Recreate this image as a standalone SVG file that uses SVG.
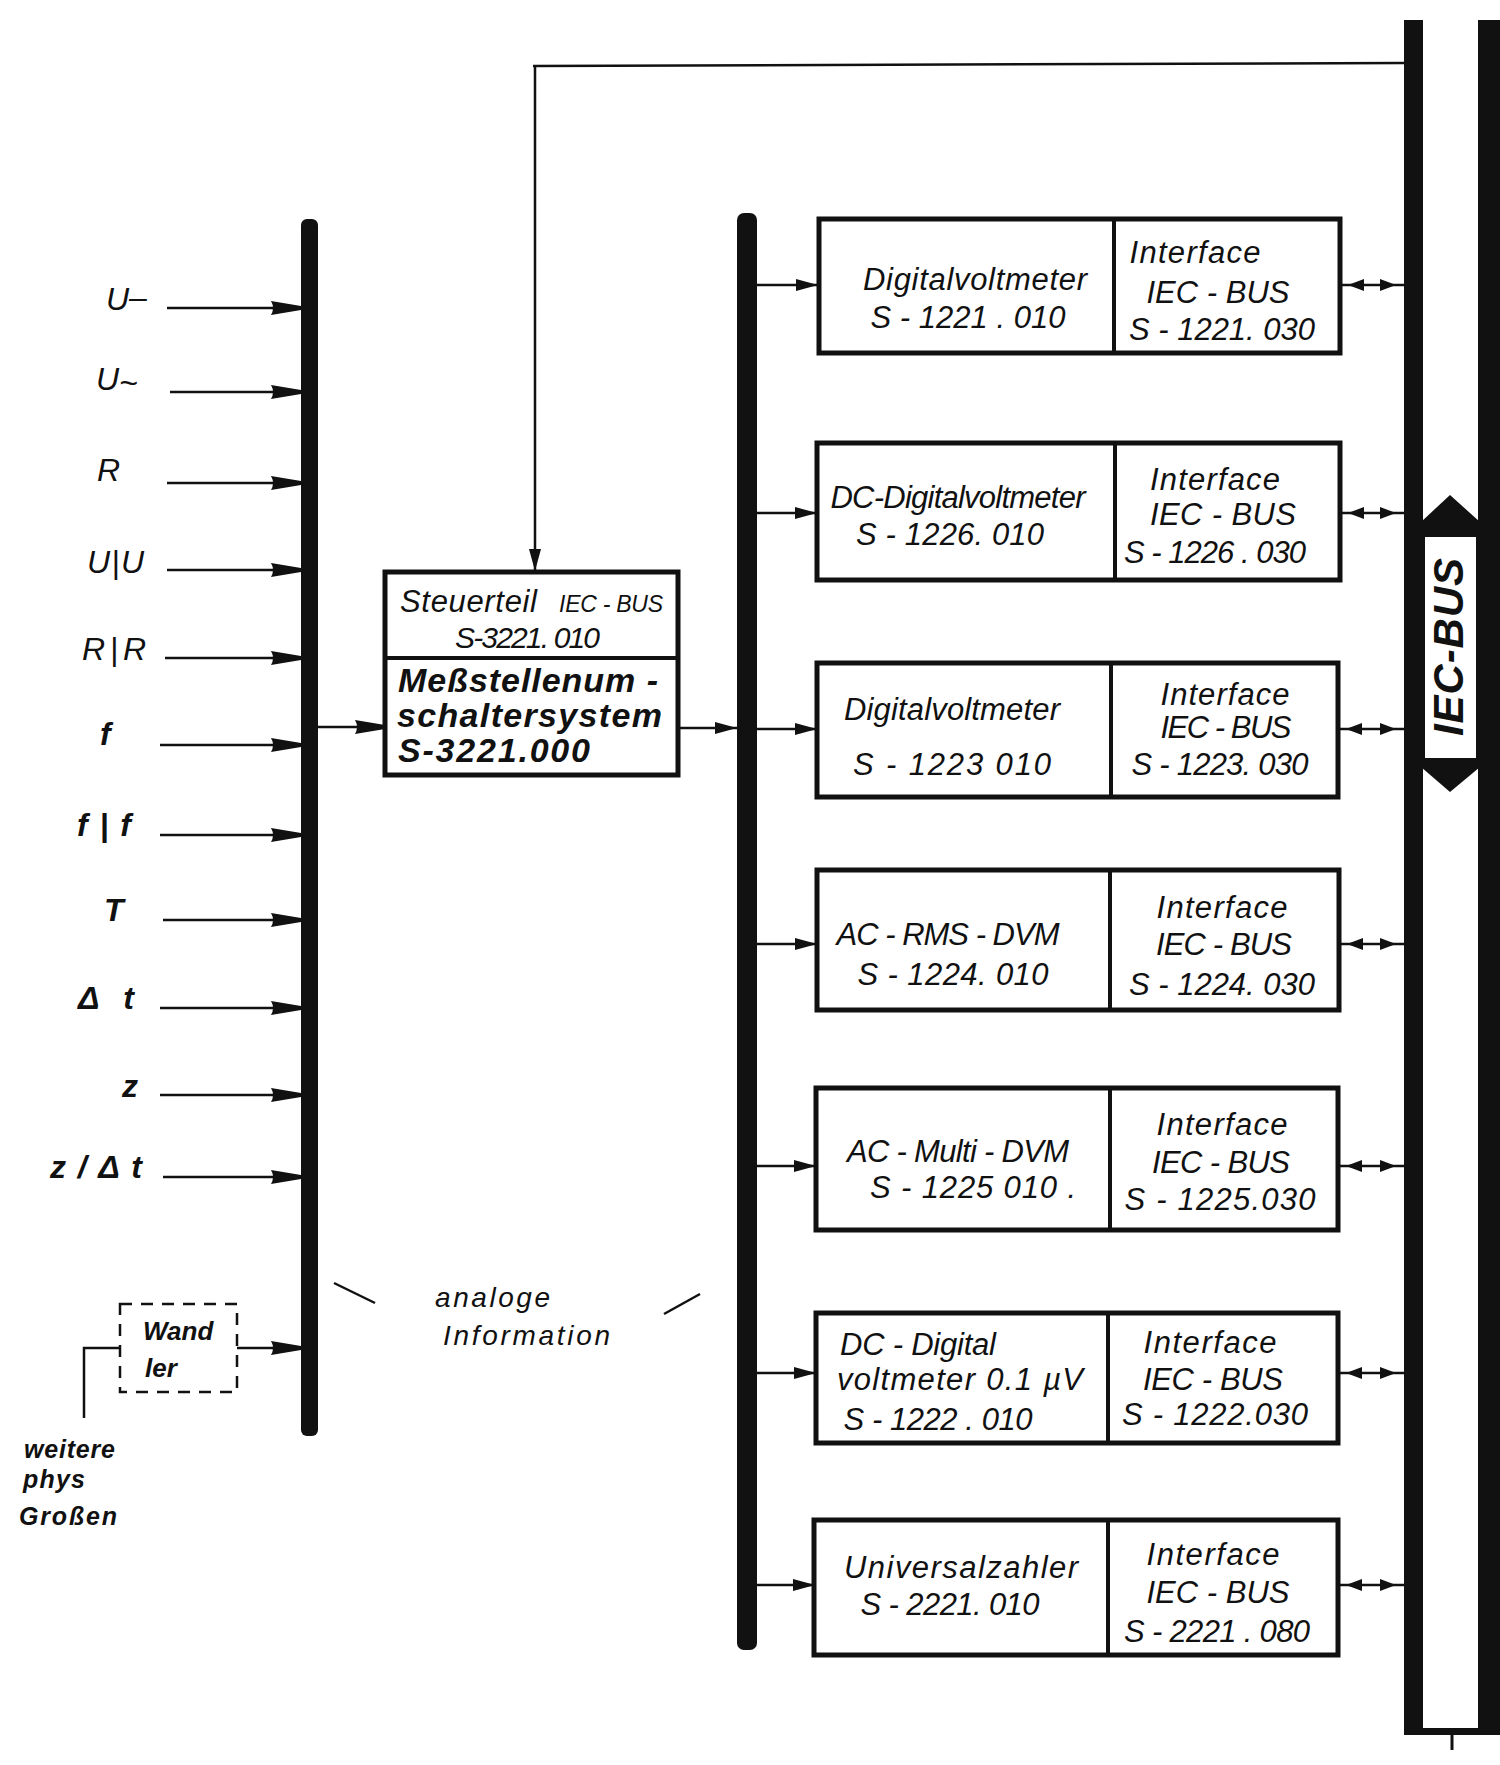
<svg xmlns="http://www.w3.org/2000/svg" width="1500" height="1765" viewBox="0 0 1500 1765">
<style>
text{font-family:"Liberation Sans",Arial,sans-serif;font-style:italic;fill:#111}
.bx{font-size:31px;text-anchor:middle}
.lb{font-size:32px}
.b{font-weight:bold}
.box{fill:#fff;stroke:#111;stroke-width:5}
.ln{stroke:#111;stroke-width:2.5;fill:none}
.bar{fill:#111}
</style>
<defs>
<marker id="ah" markerUnits="userSpaceOnUse" viewBox="0 0 30 14" markerWidth="30" markerHeight="14" refX="30" refY="7" orient="auto"><path d="M0,0 L30,5 L30,9 L0,14 Q4,7 0,0 z" fill="#111"/></marker>
<marker id="as" markerUnits="userSpaceOnUse" viewBox="0 0 22 12" markerWidth="22" markerHeight="12" refX="22" refY="6" orient="auto"><path d="M0,0 L22,6 L0,12 z" fill="#111"/></marker>
<marker id="ad" markerUnits="userSpaceOnUse" viewBox="0 0 16 12" markerWidth="16" markerHeight="12" refX="24" refY="6" orient="auto-start-reverse"><path d="M0,0 L16,6 L0,12 z" fill="#111"/></marker>
</defs>
<rect width="1500" height="1765" fill="#fff"/>

<g id="connectors">
  <line class="ln" x1="167" y1="308" x2="301" y2="308" marker-end="url(#ah)"/>
  <line class="ln" x1="170" y1="392" x2="301" y2="392" marker-end="url(#ah)"/>
  <line class="ln" x1="167" y1="483" x2="301" y2="483" marker-end="url(#ah)"/>
  <line class="ln" x1="167" y1="570" x2="301" y2="570" marker-end="url(#ah)"/>
  <line class="ln" x1="165" y1="658" x2="301" y2="658" marker-end="url(#ah)"/>
  <line class="ln" x1="160" y1="745" x2="301" y2="745" marker-end="url(#ah)"/>
  <line class="ln" x1="160" y1="835" x2="301" y2="835" marker-end="url(#ah)"/>
  <line class="ln" x1="163" y1="920" x2="301" y2="920" marker-end="url(#ah)"/>
  <line class="ln" x1="160" y1="1008" x2="301" y2="1008" marker-end="url(#ah)"/>
  <line class="ln" x1="160" y1="1095" x2="301" y2="1095" marker-end="url(#ah)"/>
  <line class="ln" x1="163" y1="1177" x2="301" y2="1177" marker-end="url(#ah)"/>
  <line class="ln" x1="237" y1="1348" x2="301" y2="1348" marker-end="url(#ah)"/>
  <polyline class="ln" points="120,1348 84,1348 84,1418"/>
  <line class="ln" x1="318" y1="727" x2="385" y2="727" stroke-width="3" marker-end="url(#ah)"/>
  <line class="ln" x1="678" y1="728" x2="737" y2="728" stroke-width="3" marker-end="url(#as)"/>
  <polyline class="ln" points="535,66 535,571" stroke-width="2.5" marker-end="url(#as)"/>
  <line class="ln" x1="533" y1="66" x2="1404" y2="63" stroke-width="4.5"/>
  <line class="ln" x1="757" y1="285" x2="818" y2="285" marker-end="url(#as)"/>
  <line class="ln" x1="757" y1="513" x2="817" y2="513" marker-end="url(#as)"/>
  <line class="ln" x1="757" y1="729" x2="817" y2="729" marker-end="url(#as)"/>
  <line class="ln" x1="757" y1="944" x2="817" y2="944" marker-end="url(#as)"/>
  <line class="ln" x1="757" y1="1166" x2="816" y2="1166" marker-end="url(#as)"/>
  <line class="ln" x1="757" y1="1373" x2="816" y2="1373" marker-end="url(#as)"/>
  <line class="ln" x1="757" y1="1585" x2="815" y2="1585" marker-end="url(#as)"/>
  <line class="ln" x1="1340" y1="285" x2="1404" y2="285" marker-start="url(#ad)" marker-end="url(#ad)"/>
  <line class="ln" x1="1340" y1="513" x2="1404" y2="513" marker-start="url(#ad)" marker-end="url(#ad)"/>
  <line class="ln" x1="1338" y1="729" x2="1404" y2="729" marker-start="url(#ad)" marker-end="url(#ad)"/>
  <line class="ln" x1="1339" y1="944" x2="1404" y2="944" marker-start="url(#ad)" marker-end="url(#ad)"/>
  <line class="ln" x1="1338" y1="1166" x2="1404" y2="1166" marker-start="url(#ad)" marker-end="url(#ad)"/>
  <line class="ln" x1="1338" y1="1373" x2="1404" y2="1373" marker-start="url(#ad)" marker-end="url(#ad)"/>
  <line class="ln" x1="1338" y1="1585" x2="1404" y2="1585" marker-start="url(#ad)" marker-end="url(#ad)"/>
  <line class="ln" x1="334" y1="1283" x2="375" y2="1303"/>
  <line class="ln" x1="664" y1="1314" x2="700" y2="1294"/>
</g>

<g id="inputs">
  <text class="lb" x="106" y="310">U<tspan dy="-2">–</tspan></text>
  <text class="lb" x="96" y="390">U<tspan dy="4">~</tspan></text>
  <text class="lb" x="97" y="481">R</text>
  <text class="lb" x="87" y="573" textLength="57">U|U</text>
  <text class="lb" x="82" y="660" textLength="64">R|R</text>
  <text class="lb b" x="100" y="745">f</text>
  <text class="lb b" x="77" y="836" textLength="54">f|f</text>
  <text class="lb b" x="104" y="921">T</text>
  <text class="lb b" x="78" y="1009" textLength="56">Δt</text>
  <text class="lb b" x="122" y="1097">z</text>
  <text class="lb b" x="50" y="1178" textLength="92">z/Δt</text>
</g>

<g id="wandler">
  <rect x="120" y="1304" width="117" height="88" fill="none" stroke="#111" stroke-width="2.5" stroke-dasharray="12 9"/>
  <text x="143" y="1340" font-size="26" font-weight="bold">Wand</text>
  <text x="145" y="1377" font-size="26" font-weight="bold">ler</text>
</g>

<g id="weitere">
  <text x="24" y="1458" font-size="25" font-weight="bold" textLength="91">weitere</text>
  <text x="23" y="1488" font-size="25" font-weight="bold" textLength="62">phys</text>
  <text x="19" y="1525" font-size="25" font-weight="bold" textLength="98">Großen</text>
</g>

<g id="analog-label">
  <text x="435" y="1307" font-size="28" textLength="115">analoge</text>
  <text x="443" y="1345" font-size="28" textLength="167">Information</text>
</g>

<g id="analog-bus">
  <rect class="bar" x="301" y="219" width="17" height="1217" rx="6"/>
</g>

<g id="steuerteil">
  <rect class="box" x="385" y="572" width="293" height="203"/>
  <line x1="385" y1="658" x2="678" y2="658" stroke="#111" stroke-width="4"/>
  <text x="400" y="612" font-size="31" textLength="137">Steuerteil</text>
  <text x="559" y="612" font-size="23" textLength="104">IEC - BUS</text>
  <text x="455" y="648" font-size="30" textLength="145">S-3221. 010</text>
  <text x="398" y="692" font-size="34" font-weight="bold" textLength="260">Meßstellenum -</text>
  <text x="397" y="727" font-size="34" font-weight="bold" textLength="265">schaltersystem</text>
  <text x="398" y="762" font-size="34" font-weight="bold" textLength="192">S-3221.000</text>
</g>

<g id="analog-bus-2">
  <rect class="bar" x="737" y="213" width="20" height="1437" rx="7"/>
</g>

<g id="dvm-1221">
  <rect class="box" x="819" y="219" width="521" height="134"/>
  <line x1="1114" y1="219" x2="1114" y2="353" stroke="#111" stroke-width="4"/>
  <text class="bx" x="975" y="290" textLength="224">Digitalvoltmeter</text>
  <text class="bx" x="968" y="328" textLength="195">S - 1221 . 010</text>
  <text class="bx" x="1195" y="263" textLength="131">Interface</text>
  <text class="bx" x="1218" y="303" textLength="143">IEC - BUS</text>
  <text class="bx" x="1222" y="340" textLength="186">S - 1221. 030</text>
</g>

<g id="dvm-1226">
  <rect class="box" x="817" y="443" width="523" height="137"/>
  <line x1="1115" y1="443" x2="1115" y2="580" stroke="#111" stroke-width="4"/>
  <text class="bx" x="958" y="508" textLength="255">DC-Digitalvoltmeter</text>
  <text class="bx" x="950" y="545" textLength="188">S - 1226. 010</text>
  <text class="bx" x="1215" y="490" textLength="130">Interface</text>
  <text class="bx" x="1223" y="525" textLength="146">IEC - BUS</text>
  <text class="bx" x="1215" y="563" textLength="182">S - 1226 . 030</text>
</g>

<g id="dvm-1223">
  <rect class="box" x="817" y="663" width="521" height="134"/>
  <line x1="1111" y1="663" x2="1111" y2="797" stroke="#111" stroke-width="4"/>
  <text class="bx" x="952" y="720" textLength="216">Digitalvoltmeter</text>
  <text class="bx" x="952" y="775" textLength="198">S - 1223  010</text>
  <text class="bx" x="1225" y="705" textLength="129">Interface</text>
  <text class="bx" x="1226" y="738" textLength="131">IEC - BUS</text>
  <text class="bx" x="1220" y="775" textLength="177">S - 1223. 030</text>
</g>

<g id="dvm-1224">
  <rect class="box" x="817" y="870" width="522" height="140"/>
  <line x1="1110" y1="870" x2="1110" y2="1010" stroke="#111" stroke-width="4"/>
  <text class="bx" x="948" y="945" textLength="223">AC - RMS - DVM</text>
  <text class="bx" x="953" y="985" textLength="191">S - 1224. 010</text>
  <text class="bx" x="1222" y="918" textLength="131">Interface</text>
  <text class="bx" x="1224" y="955" textLength="136">IEC - BUS</text>
  <text class="bx" x="1222" y="995" textLength="186">S - 1224. 030</text>
</g>

<g id="dvm-1225">
  <rect class="box" x="816" y="1088" width="522" height="142"/>
  <line x1="1110" y1="1088" x2="1110" y2="1230" stroke="#111" stroke-width="4"/>
  <text class="bx" x="958" y="1162" textLength="222">AC - Multi - DVM</text>
  <text class="bx" x="973" y="1198" textLength="206">S - 1225  010 .</text>
  <text class="bx" x="1222" y="1135" textLength="131">Interface</text>
  <text class="bx" x="1221" y="1173" textLength="138">IEC - BUS</text>
  <text class="bx" x="1220" y="1210" textLength="191">S - 1225.030</text>
</g>

<g id="dvm-1222">
  <rect class="box" x="816" y="1313" width="522" height="130"/>
  <line x1="1108" y1="1313" x2="1108" y2="1443" stroke="#111" stroke-width="4"/>
  <text class="bx" x="918" y="1355" textLength="156">DC - Digital</text>
  <text class="bx" x="960" y="1390" textLength="246">voltmeter 0.1 µV</text>
  <text class="bx" x="938" y="1430" textLength="189">S - 1222 . 010</text>
  <text class="bx" x="1210" y="1353" textLength="133">Interface</text>
  <text class="bx" x="1213" y="1390" textLength="140">IEC - BUS</text>
  <text class="bx" x="1215" y="1425" textLength="186">S - 1222.030</text>
</g>

<g id="counter-2221">
  <rect class="box" x="814" y="1520" width="524" height="135"/>
  <line x1="1108" y1="1520" x2="1108" y2="1655" stroke="#111" stroke-width="4"/>
  <text class="bx" x="961" y="1578" textLength="234">Universalzahler</text>
  <text class="bx" x="950" y="1615" textLength="179">S - 2221. 010</text>
  <text class="bx" x="1213" y="1565" textLength="133">Interface</text>
  <text class="bx" x="1218" y="1603" textLength="143">IEC - BUS</text>
  <text class="bx" x="1217" y="1642" textLength="186">S - 2221 . 080</text>
</g>

<g id="iec-bus">
  <rect class="bar" x="1404" y="20" width="19" height="1715"/>
  <rect class="bar" x="1478" y="20" width="22" height="1715"/>
  <rect class="bar" x="1404" y="1728" width="96" height="7"/>
  <line x1="1452" y1="1735" x2="1452" y2="1750" stroke="#111" stroke-width="3"/>
  <polygon class="bar" points="1450,495 1480,522 1480,767 1450,792 1421,767 1421,522"/>
  <rect x="1425" y="537" width="51" height="221" fill="#fff"/>
  <text transform="translate(1449,647) rotate(-90)" x="0" y="14" font-size="42" font-weight="bold" text-anchor="middle" textLength="178">IEC-BUS</text>
</g>
</svg>
